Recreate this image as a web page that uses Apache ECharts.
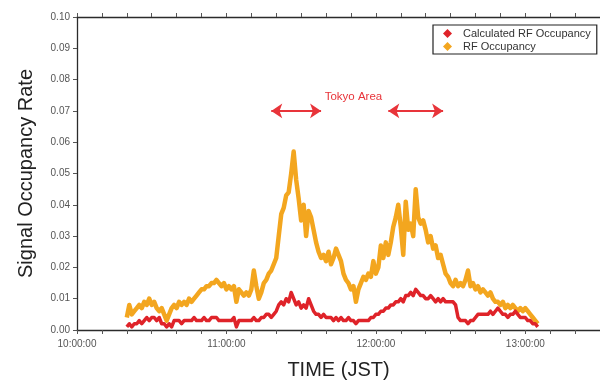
<!DOCTYPE html>
<html>
<head>
<meta charset="utf-8">
<script src="https://cdn.jsdelivr.net/npm/echarts@6/dist/echarts.min.js"></script>
<style>
  html, body { margin: 0; padding: 0; background: #fff; }
  #chart { width: 600px; height: 385px; }
</style>
</head>
<body>
<div id="chart"></div>
<script>
// Observation window, minutes after 10:00 JST
const axisStartMin = 0;
const axisEndMin = 210;
const yTicks = [0, 0.01, 0.02, 0.03, 0.04, 0.05, 0.06, 0.07, 0.08, 0.09, 0.10];

// RF Occupancy: [minutes after 10:00, rate]
const rfOccupancy = [
  [20, 0.004], [21, 0.008], [22, 0.005], [23, 0.006], [24, 0.007], [25, 0.008], [26, 0.007], [27, 0.009],
  [28, 0.008], [29, 0.010], [30, 0.008], [31, 0.009], [32, 0.007], [33, 0.006], [34, 0.007], [35, 0.005],
  [36, 0.003], [37, 0.005], [38, 0.007], [39, 0.008], [40, 0.007], [41, 0.009], [42, 0.008], [43, 0.009],
  [44, 0.008], [45, 0.010], [46, 0.009], [47, 0.010], [48, 0.011], [49, 0.012], [50, 0.013], [51, 0.013],
  [52, 0.014], [53, 0.014], [54, 0.015], [55, 0.015], [56, 0.016], [57, 0.015], [58, 0.014], [59, 0.015],
  [60, 0.013], [61, 0.014], [62, 0.013], [63, 0.014], [64, 0.009], [65, 0.013], [66, 0.012], [67, 0.011],
  [68, 0.012], [69, 0.011], [70, 0.013], [71, 0.019], [72, 0.014], [73, 0.010], [74, 0.012], [75, 0.015],
  [76, 0.016], [77, 0.018], [78, 0.019], [79, 0.021], [80, 0.023], [81, 0.030], [82, 0.037], [83, 0.039],
  [84, 0.043], [85, 0.044], [86, 0.050], [87, 0.057], [88, 0.048], [89, 0.042], [90, 0.035], [91, 0.040],
  [92, 0.030], [93, 0.038], [94, 0.036], [95, 0.032], [96, 0.028], [97, 0.025], [98, 0.023], [99, 0.024],
  [100, 0.022], [101, 0.025], [102, 0.021], [103, 0.023], [104, 0.026], [105, 0.024], [106, 0.022], [107, 0.018],
  [108, 0.016], [109, 0.015], [110, 0.013], [111, 0.014], [112, 0.009], [113, 0.013], [114, 0.015], [115, 0.017],
  [116, 0.016], [117, 0.018], [118, 0.017], [119, 0.022], [120, 0.018], [121, 0.020], [122, 0.027], [123, 0.023],
  [124, 0.028], [125, 0.024], [126, 0.028], [127, 0.033], [128, 0.036], [129, 0.040], [130, 0.033], [131, 0.024],
  [132, 0.041], [133, 0.032], [134, 0.034], [135, 0.030], [136, 0.045], [137, 0.036], [138, 0.034], [139, 0.035],
  [140, 0.032], [141, 0.028], [142, 0.030], [143, 0.026], [144, 0.027], [145, 0.023], [146, 0.024], [147, 0.021],
  [148, 0.018], [149, 0.017], [150, 0.015], [151, 0.014], [152, 0.016], [153, 0.014], [154, 0.015], [155, 0.014],
  [156, 0.016], [157, 0.019], [158, 0.014], [159, 0.015], [160, 0.013], [161, 0.014], [162, 0.012], [163, 0.013],
  [164, 0.012], [165, 0.011], [166, 0.012], [167, 0.010], [168, 0.009], [169, 0.009], [170, 0.008], [171, 0.009],
  [172, 0.007], [173, 0.008], [174, 0.007], [175, 0.008], [176, 0.007], [177, 0.006], [178, 0.007], [179, 0.006],
  [180, 0.007], [181, 0.006], [182, 0.005], [183, 0.004], [184, 0.003], [185, 0.002]
];

// Calculated RF Occupancy: [minutes after 10:00, rate]
const calcOccupancy = [
  [20, 0.001], [21, 0.002], [22, 0.001], [23, 0.002], [24, 0.002], [25, 0.003], [26, 0.002], [27, 0.003],
  [28, 0.004], [29, 0.003], [30, 0.004], [31, 0.004], [32, 0.003], [33, 0.004], [34, 0.002], [35, 0.002],
  [36, 0.001], [37, 0.002], [38, 0.001], [39, 0.003], [40, 0.003], [41, 0.003], [42, 0.002], [43, 0.003],
  [44, 0.003], [45, 0.003], [46, 0.003], [47, 0.004], [48, 0.003], [49, 0.003], [50, 0.003], [51, 0.004],
  [52, 0.003], [53, 0.003], [54, 0.004], [55, 0.004], [56, 0.004], [57, 0.003], [58, 0.003], [59, 0.003],
  [60, 0.003], [61, 0.003], [62, 0.003], [63, 0.004], [64, 0.001], [65, 0.003], [66, 0.003], [67, 0.003],
  [68, 0.003], [69, 0.003], [70, 0.003], [71, 0.004], [72, 0.003], [73, 0.003], [74, 0.004], [75, 0.004],
  [76, 0.005], [77, 0.005], [78, 0.004], [79, 0.005], [80, 0.006], [81, 0.008], [82, 0.009], [83, 0.008],
  [84, 0.010], [85, 0.009], [86, 0.012], [87, 0.010], [88, 0.008], [89, 0.009], [90, 0.007], [91, 0.008],
  [92, 0.007], [93, 0.010], [94, 0.008], [95, 0.006], [96, 0.005], [97, 0.005], [98, 0.004], [99, 0.005],
  [100, 0.004], [101, 0.004], [102, 0.004], [103, 0.003], [104, 0.004], [105, 0.003], [106, 0.004], [107, 0.003],
  [108, 0.003], [109, 0.004], [110, 0.003], [111, 0.003], [112, 0.002], [113, 0.003], [114, 0.003], [115, 0.003],
  [116, 0.003], [117, 0.003], [118, 0.004], [119, 0.004], [120, 0.005], [121, 0.005], [122, 0.006], [123, 0.006],
  [124, 0.007], [125, 0.007], [126, 0.008], [127, 0.008], [128, 0.009], [129, 0.009], [130, 0.010], [131, 0.009],
  [132, 0.011], [133, 0.011], [134, 0.012], [135, 0.011], [136, 0.013], [137, 0.012], [138, 0.011], [139, 0.011],
  [140, 0.010], [141, 0.010], [142, 0.011], [143, 0.010], [144, 0.009], [145, 0.010], [146, 0.009], [147, 0.010],
  [148, 0.009], [149, 0.009], [150, 0.009], [151, 0.009], [152, 0.008], [153, 0.004], [154, 0.003], [155, 0.003],
  [156, 0.003], [157, 0.002], [158, 0.003], [159, 0.003], [160, 0.004], [161, 0.005], [162, 0.005], [163, 0.005],
  [164, 0.005], [165, 0.005], [166, 0.006], [167, 0.005], [168, 0.006], [169, 0.007], [170, 0.006], [171, 0.005],
  [172, 0.005], [173, 0.004], [174, 0.005], [175, 0.005], [176, 0.006], [177, 0.005], [178, 0.004], [179, 0.004],
  [180, 0.004], [181, 0.003], [182, 0.003], [183, 0.002], [184, 0.002], [185, 0.001]
];

// "Tokyo Area" annotation: two double-headed arrows and a caption
const tokyoArrows = [[78, 98], [125, 147]];
const tokyoLevel = 0.070;
const tokyoLabelAt = [111, 0.0745];

const COLOR_RF = '#f3a61f';
const COLOR_CALC = '#df2329';
const FONT = '"Liberation Sans", Arial, Helvetica, sans-serif';

function clock(min) {
  const h = 10 + Math.floor(min / 60);
  const m = min % 60;
  return String(h).padStart(2, '0') + ':' + String(m).padStart(2, '0') + ':00';
}

const chart = echarts.init(document.getElementById('chart'), null, { renderer: 'canvas' });

const axisLine = { show: true, lineStyle: { color: '#2b2b2b', width: 1.3 } };
const axisTick = { show: true, length: 4, lineStyle: { color: '#555', width: 1 } };

chart.setOption({
  animation: false,
  backgroundColor: '#fff',
  textStyle: { fontFamily: FONT },
  grid: { left: 77, right: -4, top: 17, bottom: 53 },
  legend: {
    left: 433, top: 25,
    orient: 'vertical',
    itemGap: 2,
    itemWidth: 9, itemHeight: 9,
    padding: [3, 6, 2, 10],
    borderColor: '#222', borderWidth: 1.2,
    backgroundColor: '#fff',
    textStyle: { fontSize: 11, color: '#333', fontFamily: FONT, padding: [0, 0, 0, 6] },
    data: [
      { name: 'Calculated RF Occupancy', icon: 'diamond' },
      { name: 'RF Occupancy', icon: 'diamond' }
    ]
  },
  xAxis: [
    {
      type: 'value', position: 'bottom',
      min: axisStartMin, max: axisEndMin, interval: 10,
      axisLine, axisTick, splitLine: { show: false },
      axisLabel: {
        color: '#555', fontSize: 10, margin: 9, fontFamily: FONT,
        formatter: v => (v % 60 === 0 ? clock(v) : ''),
        showMaxLabel: false
      },
      name: 'TIME (JST)', nameLocation: 'middle', nameGap: 30,
      nameTextStyle: { fontSize: 20, color: '#222', fontFamily: FONT }
    },
    {
      type: 'value', position: 'top',
      min: axisStartMin, max: axisEndMin, interval: 10,
      axisLine, axisTick, axisLabel: { show: false }, splitLine: { show: false }
    }
  ],
  yAxis: {
    type: 'value',
    min: yTicks[0], max: yTicks[yTicks.length - 1], interval: 0.01,
    axisLine, axisTick, splitLine: { show: false },
    axisLabel: { color: '#555', fontSize: 10, margin: 7, fontFamily: FONT, formatter: v => v.toFixed(2) },
    name: 'Signal Occupancy Rate', nameLocation: 'middle', nameGap: 41,
    nameTextStyle: { fontSize: 20, color: '#222', fontFamily: FONT }
  },
  series: [
    {
      name: 'RF Occupancy',
      type: 'line',
      data: rfOccupancy,
      showSymbol: false,
      color: COLOR_RF,
      lineStyle: { color: COLOR_RF, width: 4.5, join: 'round' },
      z: 2
    },
    {
      name: 'Calculated RF Occupancy',
      type: 'line',
      data: calcOccupancy,
      showSymbol: false,
      color: COLOR_CALC,
      lineStyle: { color: COLOR_CALC, width: 3.5, join: 'round' },
      z: 3,
      markLine: {
        silent: true,
        symbol: ['arrow', 'arrow'],
        symbolSize: [11, 11],
        lineStyle: { color: '#e8343a', width: 2, type: 'solid' },
        label: { show: false },
        data: tokyoArrows.map(([a, b]) => [
          { coord: [a, tokyoLevel] },
          { coord: [b, tokyoLevel] }
        ])
      },
      markPoint: {
        silent: true,
        symbol: 'rect', symbolSize: 1,
        itemStyle: { color: 'rgba(0,0,0,0)' },
        label: {
          show: true, position: 'inside',
          color: '#e8343a', fontSize: 11.5, fontFamily: FONT,
          formatter: 'Tokyo Area'
        },
        data: [{ coord: tokyoLabelAt }]
      }
    }
  ]
});
</script>
</body>
</html>
